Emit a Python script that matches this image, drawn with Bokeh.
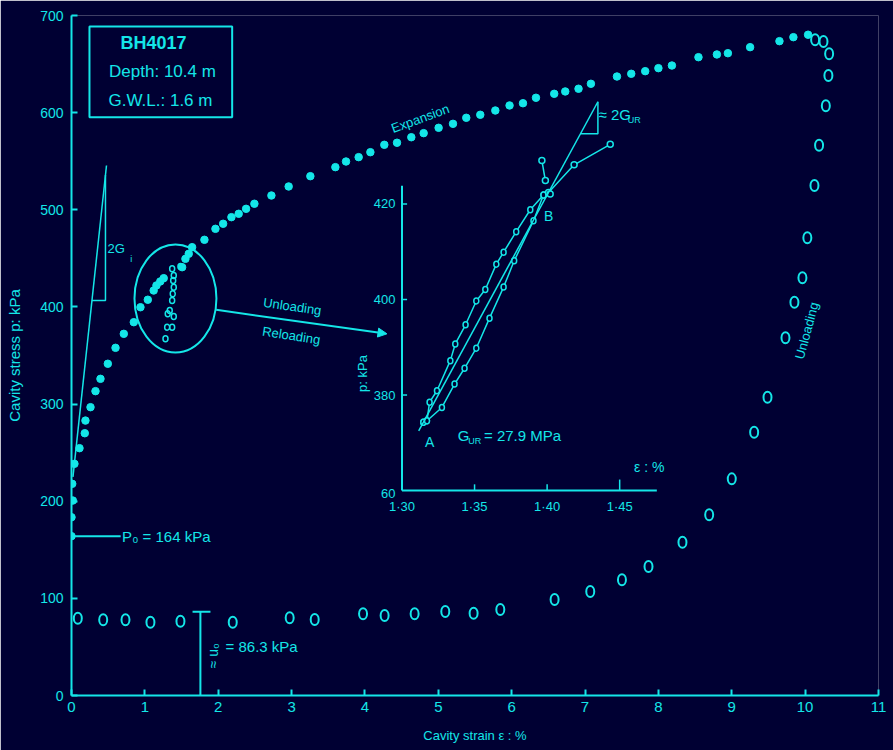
import math
from bokeh.plotting import figure
from bokeh.models import Range1d, Arrow, NormalHead, Label, FixedTicker, BoxAnnotation
from bokeh.core.properties import value
from bokeh.embed import file_html
from bokeh.resources import INLINE

BG = "#000033"
CYAN = "#14e6e8"
FONT = "Liberation Sans"

# ---------------- pressuremeter test BH4017 ----------------
# expansion (loading) curve, filled markers
exp_strain = [0.0, 0.0, 0.018, 0.01, 0.04, 0.109, 0.181, 0.19, 0.259, 0.327, 0.395,
              0.495, 0.6, 0.713, 0.849, 0.94, 1.04, 1.12, 1.158, 1.21, 1.257,
              1.508, 1.553, 1.598, 1.644, 1.812, 1.962, 2.067, 2.18, 2.279, 2.38,
              2.493, 2.725, 2.96, 3.256, 3.597, 3.742, 3.914, 4.074, 4.264, 4.437,
              4.632, 4.8, 5.004, 5.2, 5.381, 5.572, 5.777, 5.971, 6.154, 6.331,
              6.58, 6.73, 6.911, 7.08, 7.435, 7.63, 7.82, 8.0, 8.184, 8.546,
              8.797, 8.947, 9.25, 9.65, 9.84, 10.04]
exp_stress = [164, 183.5, 200.7, 217.9, 238.5, 254.6, 270, 283, 296.8, 313.3, 326,
              341.5, 357.9, 372.3, 384.3, 399.7, 407.4, 416.9, 422.1, 426.2, 429.6,
              440.9, 449.5, 454.7, 461.5, 469.1, 480.4, 485.6, 492.4, 495.9, 501,
              506.2, 514.7, 524, 534.6, 543.9, 549.7, 554.2, 559.3, 566.9, 569,
              574.7, 578.9, 584.4, 588.5, 594.7, 597.8, 602.2, 607.4, 609.7, 615.3,
              619.4, 621.8, 624.6, 629.7, 637.2, 640, 642.7, 645.8, 648.5, 657.1,
              659.9, 661.2, 667.4, 673.6, 677.7, 680.2]

# unload-reload cycle within the expansion
loop_strain = [1.485, 1.372, 1.394, 1.386, 1.394, 1.38, 1.372, 1.339, 1.394, 1.312,
               1.372, 1.304, 1.281]
loop_stress = [441.6, 439.3, 432.4, 427.2, 420.3, 413.5, 406.6, 396.3, 390.1, 392.9,
               379.1, 379.1, 367.2]

# final unloading, open markers
unl_strain = [10.136, 10.25, 10.327, 10.317, 10.282, 10.19, 10.127, 10.03, 9.963,
              9.854, 9.732, 9.487, 9.305, 9.0, 8.692, 8.328, 7.865, 7.503, 7.071,
              6.585, 5.845, 5.481, 5.095, 4.677, 4.268, 3.974, 3.315, 2.974, 2.198,
              1.485, 1.076, 0.736, 0.432, 0.086]
unl_stress = [675, 673.3, 660.6, 638.3, 607.1, 566.5, 525, 471.2, 430, 404.9, 368.2,
              307.1, 271, 223, 186, 157.8, 132.8, 119.1, 107.1, 98.8, 88.5, 84.7,
              86.5, 84.1, 82.4, 84.1, 78.2, 80, 75.5, 76.5, 75.5, 77.9, 77.9, 79.6]

p0 = 164.0          # kPa, lift-off stress
u0 = 86.3           # kPa, pore pressure
u0_strain = 1.757   # %
# initial shear modulus slope line
gi_strain = [0.02, 0.477]
gi_stress = [225.0, 545.6]

x_ticks = list(range(0, 12))
y_ticks = list(range(0, 701, 100))

# ---------------- detail of the unload-reload cycle ----------------
ins_unl_strain = [1.3975, 1.3884, 1.3787, 1.370, 1.365, 1.3574, 1.3512, 1.3438,
                  1.3367, 1.3333, 1.3241, 1.319, 1.3172, 1.3147]
ins_unl_stress = [421.9, 418.8, 414.2, 409.9, 407.4, 402.1, 399.7, 394.7, 390.7,
                  387.2, 380.9, 378.5, 374.6, 374.3]
ins_rel_strain = [1.3147, 1.3172, 1.3275, 1.3362, 1.3431, 1.3512, 1.3603, 1.370,
                  1.3773, 1.3906, 1.3975]
ins_rel_stress = [374.3, 374.6, 377.4, 382.3, 385.6, 389.8, 396.1, 402.6, 408.1,
                  416.5, 421.9]
ins_tail_strain = [1.401, 1.4186, 1.4435]
ins_tail_stress = [422.4, 428.2, 432.5]
ins_spike_strain = [1.3988, 1.3964]
ins_spike_stress = [424.9, 429.1]
ins_b_strain = [1.4021]
ins_b_stress = [422.1]

G_UR = 27.9                 # MPa
A_strain, A_stress = 1.3115, 372.5
slope_end_strain = 1.435

ins_x_ticks = [1.30, 1.35, 1.40, 1.45]
ins_x_labels = ["1·30", "1·35", "1·40", "1·45"]
ins_y_ticks = [360, 380, 400, 420]
ins_y_labels = ["60", "380", "400", "420"]
ins_x_end = 1.4756
ins_y_end = 423.8

# ---------------- figure ----------------
p = figure(width=893, height=750, x_range=Range1d(0, 11), y_range=Range1d(0, 700),
           output_backend="svg", toolbar_location=None,
           min_border_left=71, min_border_right=15, min_border_top=15,
           min_border_bottom=55,
           background_fill_color=BG, border_fill_color=BG, outline_line_color=None)
p.grid.visible = False

for ax in (p.xaxis[0], p.yaxis[0]):
    ax.axis_line_color = CYAN
    ax.axis_line_width = 2
    ax.major_tick_line_color = CYAN
    ax.major_tick_line_width = 2
    ax.major_tick_in = 6
    ax.major_tick_out = 0
    ax.minor_tick_line_color = None
    ax.major_label_text_color = CYAN
    ax.major_label_text_font = FONT
    ax.axis_label_text_color = CYAN
    ax.axis_label_text_font = FONT
    ax.axis_label_text_font_style = "normal"

p.xaxis.ticker = FixedTicker(ticks=x_ticks)
p.yaxis.ticker = FixedTicker(ticks=y_ticks)
p.xaxis.major_label_text_font_size = "15px"
p.yaxis.major_label_text_font_size = "14px"
p.xaxis.major_label_standoff = 6
p.yaxis.major_label_standoff = 8
p.xaxis.axis_label = "Cavity strain ε : %"
p.yaxis.axis_label = "Cavity stress p: kPa"
p.xaxis.axis_label_text_font_size = "13px"
p.yaxis.axis_label_text_font_size = "15px"
p.xaxis.axis_label_standoff = 13
p.yaxis.axis_label_standoff = 14

# expansion
p.scatter(exp_strain, exp_stress, marker="circle", size=7.5,
          fill_color=CYAN, line_color=CYAN)
# unload-reload cycle and encircling ellipse
p.ellipse(loop_strain, loop_stress, width=5, height=6, width_units="screen",
          height_units="screen", fill_color=None, line_color=CYAN, line_width=1.5)
p.ellipse(x=[1.417], y=[408.7], width=[1.117], height=[111.2], fill_color=None,
          line_color=CYAN, line_width=2)
# final unloading
p.ellipse(unl_strain, unl_stress, width=8, height=11, width_units="screen",
          height_units="screen", fill_color=None, line_color=CYAN, line_width=2)

# p0 marker
p.line([0, 0.67], [p0, p0], line_color=CYAN, line_width=2)
p.add_layout(Label(x=0.69, y=p0, text="P₀ = 164 kPa", text_color=CYAN,
                   text_font=FONT, text_font_size="15px", text_baseline="middle"))

# u0 marker
p.line([u0_strain, u0_strain], [0, u0], line_color=CYAN, line_width=2)
p.line([u0_strain - 0.107, u0_strain + 0.137], [u0, u0], line_color=CYAN, line_width=2)
p.add_layout(Label(x=1.93, y=41, text="≈ u₀", angle=math.pi / 2, text_color=CYAN,
                   text_font=FONT, text_font_size="14px", text_align="center",
                   text_baseline="middle"))
p.add_layout(Label(x=2.1, y=50, text="= 86.3 kPa", text_color=CYAN,
                   text_font=FONT, text_font_size="15px", text_baseline="middle"))

# initial slope triangle
p.line(gi_strain, gi_stress, line_color=CYAN, line_width=1.5)
gi_slope = (gi_stress[1] - gi_stress[0]) / (gi_strain[1] - gi_strain[0])
tri_x = 0.463
tri_low = 406.6
tri_top = gi_stress[0] + gi_slope * (tri_x - gi_strain[0])
tri_left = gi_strain[0] + (tri_low - gi_stress[0]) / gi_slope
p.line([tri_x, tri_x, tri_left], [tri_top, tri_low, tri_low], line_color=CYAN,
       line_width=1.5)
p.add_layout(Label(x=0.49, y=460, text="2G", text_color=CYAN, text_font=FONT,
                   text_font_size="13px", text_baseline="middle"))
p.add_layout(Label(x=0.80, y=449, text="i", text_color=CYAN, text_font=FONT,
                   text_font_size="9px", text_baseline="middle"))

# test description box
p.add_layout(BoxAnnotation(left=0.245, right=2.19, bottom=595.3, top=688.7,
                           fill_alpha=0, line_color=CYAN, line_alpha=1.0,
                           line_width=2))
p.add_layout(Label(x=1.117, y=671.8, text="BH4017", text_color=CYAN, text_font=FONT,
                   text_font_size="18px", text_font_style="bold", text_align="center",
                   text_baseline="middle"))
p.add_layout(Label(x=1.24, y=642.4, text="Depth: 10.4 m", text_color=CYAN,
                   text_font=FONT, text_font_size="17px", text_align="center",
                   text_baseline="middle"))
p.add_layout(Label(x=1.213, y=612.5, text="G.W.L.: 1.6 m", text_color=CYAN,
                   text_font=FONT, text_font_size="17px", text_align="center",
                   text_baseline="middle"))

# curve labels
p.add_layout(Label(x=4.755, y=594, text="Expansion", angle=0.35, text_color=CYAN,
                   text_font=FONT, text_font_size="13px",
                   text_align="center", text_baseline="middle"))
p.add_layout(Label(x=3.011, y=400.5, text="Unloading", angle=-0.14, text_color=CYAN,
                   text_font=FONT, text_font_size="13px", text_align="center",
                   text_baseline="middle"))
p.add_layout(Label(x=2.997, y=370.6, text="Reloading", angle=-0.15, text_color=CYAN,
                   text_font=FONT, text_font_size="13px", text_align="center",
                   text_baseline="middle"))
p.add_layout(Label(x=10.023, y=375.7, text="Unloading", angle=1.31, text_color=CYAN,
                   text_font=FONT, text_font_size="13px", text_align="center",
                   text_baseline="middle"))
p.add_layout(Arrow(end=NormalHead(size=9, fill_color=CYAN, line_color=CYAN),
                   x_start=1.972, y_start=397.0, x_end=4.30, y_end=372.3,
                   line_color=CYAN, line_width=2))

# ---------------- inset axes placed inside the main frame ----------------
ins_origin_main = (4.505, 211.0)   # where (1.30 %, 360 kPa) sits in main units
ins_scale = (19.78, 4.916)         # main units per inset unit
p.extra_x_ranges = {"ins_x": Range1d(
    1.30 - ins_origin_main[0] / ins_scale[0],
    1.30 + (11 - ins_origin_main[0]) / ins_scale[0])}
p.extra_y_ranges = {"ins_y": Range1d(
    360 - ins_origin_main[1] / ins_scale[1],
    360 + (700 - ins_origin_main[1]) / ins_scale[1])}
R = dict(x_range_name="ins_x", y_range_name="ins_y")

p.line([1.30, ins_x_end], [360, 360], line_color=CYAN, line_width=2, **R)
p.line([1.30, 1.30], [360, ins_y_end], line_color=CYAN, line_width=2, **R)
p.segment(x0=ins_x_ticks[1:], y0=[360] * 3, x1=ins_x_ticks[1:], y1=[361.3, 361.3, 362.3],
          line_color=CYAN, line_width=1.5, **R)
p.segment(x0=[1.30] * 3, y0=ins_y_ticks[1:], x1=[1.3035] * 3, y1=ins_y_ticks[1:],
          line_color=CYAN, line_width=1.5, **R)
p.text(x=ins_x_ticks, y=[356.6] * len(ins_x_ticks), text=ins_x_labels,
       text_font=value(FONT), text_font_size="13px", text_color=CYAN,
       text_align="center", text_baseline="middle", **R)
p.text(x=[1.2955] * len(ins_y_ticks), y=[359.3] + ins_y_ticks[1:], text=ins_y_labels,
       text_font=value(FONT), text_font_size="13px", text_color=CYAN,
       text_align="right", text_baseline="middle", **R)
p.add_layout(Label(x=1.2727, y=384.5, text="p: kPa", angle=math.pi / 2,
                   text_color=CYAN, text_font=FONT, text_font_size="13px",
                   text_align="center", text_baseline="middle", **R))

# unloading and reloading branches
for xs, ys in ((ins_unl_strain, ins_unl_stress), (ins_rel_strain, ins_rel_stress)):
    p.line(xs, ys, line_color=CYAN, line_width=1.5, **R)
    p.ellipse(xs, ys, width=5, height=6, width_units="screen", height_units="screen",
              fill_color=BG, line_color=CYAN, line_width=1.5, **R)
p.line([ins_b_strain[0]] + ins_tail_strain, [ins_b_stress[0]] + ins_tail_stress,
       line_color=CYAN, line_width=1.5, **R)
p.ellipse(ins_tail_strain + ins_b_strain, ins_tail_stress + ins_b_stress, width=6,
          height=6, width_units="screen", height_units="screen", fill_color=BG,
          line_color=CYAN, line_width=1.5, **R)
p.line(ins_spike_strain, ins_spike_stress, line_color=CYAN, line_width=1.5, **R)
p.ellipse(ins_spike_strain, ins_spike_stress, width=6, height=6, width_units="screen",
          height_units="screen", fill_color=BG, line_color=CYAN, line_width=1.5, **R)

# mean unload-reload slope 2G_UR (kPa per % strain)
slope = 2 * G_UR * 1000 / 100
slope_end_stress = A_stress + slope * (slope_end_strain - A_strain)
p.line([A_strain, slope_end_strain], [A_stress, slope_end_stress], line_color=CYAN,
       line_width=1.5, **R)
leg = 6.7
p.line([slope_end_strain, slope_end_strain, slope_end_strain - leg / slope],
       [slope_end_stress, slope_end_stress - leg, slope_end_stress - leg],
       line_color=CYAN, line_width=1.5, **R)

p.add_layout(Label(x=1.319, y=370.1, text="A", text_color=CYAN, text_font=FONT,
                   text_font_size="14px", text_align="center", text_baseline="middle", **R))
p.add_layout(Label(x=1.401, y=417.5, text="B", text_color=CYAN, text_font=FONT,
                   text_font_size="14px", text_align="center", text_baseline="middle", **R))
p.add_layout(Label(x=1.3385, y=371.6, text="G", text_color=CYAN, text_font=FONT,
                   text_font_size="15px", text_baseline="middle", **R))
p.add_layout(Label(x=1.3457, y=370.4, text="UR", text_color=CYAN, text_font=FONT,
                   text_font_size="9px", text_baseline="middle", **R))
p.add_layout(Label(x=1.3565, y=371.6, text="= 27.9 MPa", text_color=CYAN,
                   text_font=FONT, text_font_size="15px", text_baseline="middle", **R))
p.add_layout(Label(x=1.4704, y=364.9, text="ε : %", text_color=CYAN, text_font=FONT,
                   text_font_size="14px", text_align="center", text_baseline="middle", **R))
p.add_layout(Label(x=1.4354, y=438.8, text="≈ 2G", text_color=CYAN, text_font=FONT,
                   text_font_size="15px", text_baseline="middle", **R))
p.add_layout(Label(x=1.4555, y=437.6, text="UR", text_color=CYAN, text_font=FONT,
                   text_font_size="9px", text_baseline="middle", **R))

open("out.html", "w").write(file_html(p, INLINE))
